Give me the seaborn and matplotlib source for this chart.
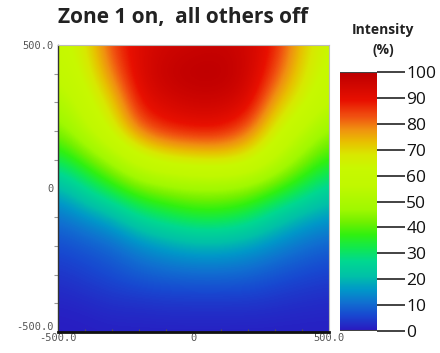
import numpy as np
import matplotlib
matplotlib.use("Agg")
import matplotlib.pyplot as plt
import seaborn as sns
from matplotlib.colors import LinearSegmentedColormap

# grid coordinates (data units)
x_pos = [-500, -400, -300, -200, -100, 0, 100, 200, 300, 400, 500]
y_pos = [500, 400, 300, 200, 100, 0, -100, -200, -300, -400, -500]

# intensity (%), one list per row (top row y=500 first)
row_p500 = [60, 67, 85, 92, 95, 96, 97, 95, 88, 72, 62]
row_p400 = [57, 64, 80, 93, 98, 100, 100, 96, 84, 69, 60]
row_p300 = [50, 60, 71, 90, 94, 96, 96, 93, 75, 65, 55]
row_p200 = [43, 53, 65, 81, 87, 89, 89, 82, 66, 55, 45]
row_p100 = [32, 40, 49, 60, 66, 68, 69, 66, 55, 44, 36]
row_0 = [19, 27, 35, 42, 45, 47, 47, 45, 39, 32, 25]
row_m100 = [11, 15, 19, 27, 31, 34, 34, 31, 24, 19, 16]
row_m200 = [6.5, 8, 10, 14, 17, 19, 19, 17, 14, 11, 9]
row_m300 = [3.5, 5, 6.5, 8.5, 9.5, 10, 10, 9.5, 7.5, 6, 5]
row_m400 = [1.5, 2, 3, 3, 3.5, 3.5, 3.5, 3.5, 3, 2.5, 2.2]
row_m500 = [0.5, 0.7, 1, 1, 1, 1, 1, 1, 1, 1, 1]

cbar_ticks = [0, 10, 20, 30, 40, 50, 60, 70, 80, 90, 100]
axis_ticks = [-500, 0, 500]
axis_labels = ["-500.0", "0", "500.0"]

title = "Zone 1 on,  all others off"
cbar_title = "Intensity\n(%)"

sns.set_theme(style="white")
plt.rcParams["font.family"] = ["Open Sans", "DejaVu Sans"]

# colormap matching the colour bar
cmap_anchors = [
    (0, "#2a18c0"), (6, "#1848d0"), (11, "#1070d0"), (16, "#0098c8"),
    (21, "#00c0a8"), (27, "#00d890"), (32, "#10e850"), (37, "#30f010"),
    (42, "#70f000"), (47, "#a0f800"), (56, "#c0f800"), (63, "#c8f800"),
    (68, "#d8e800"), (73, "#e8c000"), (78, "#f09010"), (83, "#f05010"),
    (89, "#e81000"), (99, "#c00000"), (100, "#c00000"),
]
cmap = LinearSegmentedColormap.from_list(
    "intensity", [(v / 100, c) for v, c in cmap_anchors], N=512)
_ = sns.blend_palette([c for _, c in cmap_anchors], n_colors=8)

grid = np.array([row_p500, row_p400, row_p300, row_p200, row_p100, row_0,
                 row_m100, row_m200, row_m300, row_m400, row_m500], dtype=float)

fig = plt.figure(figsize=(4.4, 3.53), dpi=100)
ax = fig.add_axes([58 / 440, 21 / 353, 271 / 440, 287 / 353])
dx = (x_pos[1] - x_pos[0]) / 2
dy = (y_pos[0] - y_pos[1]) / 2
im = ax.imshow(grid, cmap=cmap, vmin=0, vmax=100, origin="upper",
               extent=[x_pos[0] - dx, x_pos[-1] + dx, y_pos[-1] - dy, y_pos[0] + dy],
               interpolation="bicubic", aspect="auto")
ax.set_xlim(-500, 500)
ax.set_ylim(-500, 500)

ax.set_xticks(axis_ticks)
ax.set_xticklabels(axis_labels)
ax.set_yticks(axis_ticks)
ax.set_yticklabels(axis_labels)
ax.set_xticks(np.arange(-400, 500, 100), minor=True)
ax.set_yticks(np.arange(-400, 500, 100), minor=True)
for lab in ax.get_xticklabels() + ax.get_yticklabels():
    lab.set_fontfamily("DejaVu Sans Mono")
    lab.set_fontsize(7.5)
    lab.set_color("#555555")
ax.get_yticklabels()[0].set_va("bottom")
ax.tick_params(axis="x", which="major", length=0, pad=1)
ax.tick_params(axis="y", which="major", length=0, pad=3)
ax.tick_params(axis="y", which="minor", left=True, length=3, width=0.8, color="#999999", direction="out")
ax.tick_params(axis="x", which="minor", bottom=True, length=2, width=0.8, color="#555555", direction="in")
ax.spines["left"].set_color("#333333")
ax.spines["left"].set_linewidth(1.0)
ax.spines["bottom"].set_color("#111111")
ax.spines["bottom"].set_linewidth(2.0)
for s in ("top", "right"):
    ax.spines[s].set_color("#bbbbbb")
    ax.spines[s].set_linewidth(0.8)

fig.text(183 / 440, 1 - 17 / 353, title, ha="center", va="center",
         fontsize=15, fontweight="bold", color="#222222")

cax = fig.add_axes([340 / 440, 22 / 353, 37 / 440, 259 / 353])
cb = fig.colorbar(im, cax=cax, ticks=cbar_ticks)
cb.outline.set_visible(False)
cax.axhline(100, color="#444444", lw=1.5)
cax.axhline(0, color="#444444", lw=1.5)
cax.tick_params(length=20, width=1.2, color="#222222", labelsize=12.5, pad=1,
                labelcolor="#111111")
fig.text(383 / 440, 1 - 40 / 353, cbar_title, ha="center", va="center",
         fontsize=10, fontweight="bold", color="#222222", linespacing=1.5)

fig.savefig("out.png", dpi=100)
